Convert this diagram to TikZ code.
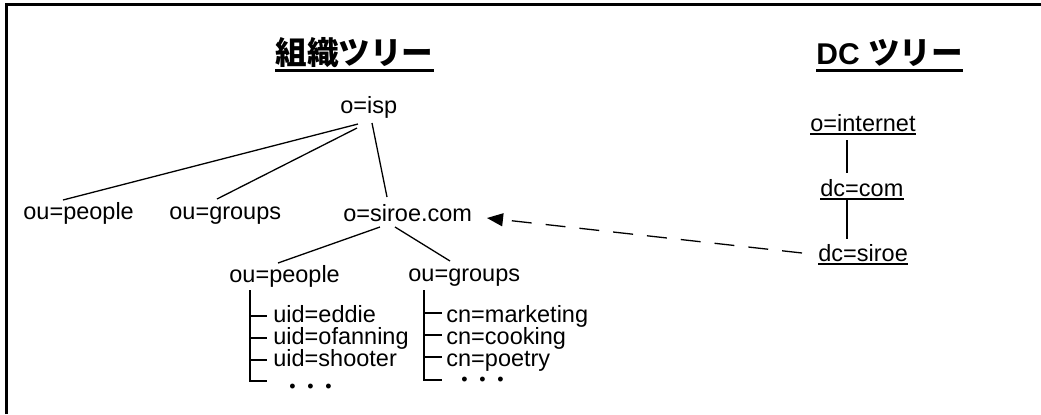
\documentclass[tikz,border=0pt]{standalone}
\usepackage{fontspec}
\setmainfont{Liberation Sans}
\newfontfamily\cjk{Noto Sans CJK JP}
\usetikzlibrary{arrows.meta,calc}
\begin{document}
\begin{tikzpicture}[x=0.5pt,y=-0.5pt,
  lbl/.style={inner sep=0pt,anchor=base west,font=\fontsize{11.75}{14}\selectfont},
  dotsnode/.style={inner sep=0pt,anchor=base west,font=\fontsize{9}{10}\selectfont},
  titlenode/.style={inner sep=0pt,anchor=base west},
  edge/.style={line width=0.65pt},
  brk/.style={line width=1pt},
  ul/.style={line width=1pt}]
\useasboundingbox (0,0) rectangle (1041,414);
\draw[line width=1.5pt] (6.5,414) -- (6.5,4) -- (1041,4);

% titles
\node[titlenode,font=\cjk\bfseries\fontsize{15.8}{18}\selectfont] (t1) at (275,64) {組織ツリー};
\draw[line width=1.5pt] ($(t1.base west)+(0,6)$) -- ($(t1.base east)+(0,6)$);
\node[titlenode,font=\bfseries\fontsize{15}{17}\selectfont] (t2) at (816,64) {DC {\cjk\bfseries\fontsize{15.8}{18}\selectfont ツリー}};
\draw[line width=1.5pt] ($(t2.base west)+(0,6)$) -- ($(t2.base east)+(0,6)$);

% organization tree
\node[lbl] (isp) at (340,113) {o=isp};
\node[lbl] (op) at (23,219) {ou=people};
\node[lbl] (og) at (169,219) {ou=groups};
\node[lbl] (siroe) at (343,221) {o=siroe.com};
\node[lbl] (ip) at (229,282) {ou=people};
\node[lbl] (ig) at (408,281) {ou=groups};
\node[lbl] (u1) at (273,322) {uid=eddie};
\node[lbl] (u2) at (273,344) {uid=ofanning};
\node[lbl] (u3) at (273,366) {uid=shooter};
\node[dotsnode] (ld) at (289,392) {•\hspace{5.85pt}•\hspace{5.85pt}•};
\node[lbl] (c1) at (446,322) {cn=marketing};
\node[lbl] (c2) at (446,344) {cn=cooking};
\node[lbl] (c3) at (446,366) {cn=poetry};
\node[dotsnode] (rd) at (461,385) {•\hspace{5.85pt}•\hspace{5.85pt}•};

\draw[edge] ($(isp.base west)+(18,11)$) -- ($(op.base west)+(40,-19)$);
\draw[edge] ($(isp.base west)+(17,15)$) -- ($(og.base west)+(48,-20)$);
\draw[edge] ($(isp.base west)+(32,10)$) -- ($(siroe.base west)+(44,-24)$);
\draw[edge] ($(siroe.base west)+(37,6)$) -- ($(ip.base west)+(49,-19)$);
\draw[edge] ($(siroe.base west)+(52,6)$) -- ($(ig.base west)+(42,-20)$);

% brackets
\draw[brk] ($(ip.base west)+(21,8)$) |- ($(ld.base west)+(-22,-11)$);
\foreach \n in {u1,u2,u3}
  \draw[brk] ($(\n.base west)+(-23,-6)$) -- ++(17,0);
\draw[brk] ($(ig.base west)+(16,9)$) |- ($(rd.base west)+(-19,-5)$);
\foreach \n in {c1,c2,c3}
  \draw[brk] ($(\n.base west)+(-22,-9)$) -- ++(18,0);

% DC tree
\node[lbl] (inet) at (810,131) {o=internet};
\node[lbl] (com) at (820,196) {dc=com};
\node[lbl] (dsiroe) at (818,261) {dc=siroe};
\foreach \n in {inet,com,dsiroe}
  \draw[ul] ($(\n.base west)+(0,2.5)$) -- ($(\n.base east)+(0,2.5)$);
\draw[brk] ($(inet.base west)+(37,9)$) -- ($(com.base west)+(27,-23)$);
\draw[brk] ($(com.base west)+(27,4)$) -- ($(dsiroe.base west)+(29,-22)$);

% mapping arrow
\draw[edge,dash pattern=on 10pt off 7pt,-{Triangle[length=8pt,width=6.5pt]}]
  ($(dsiroe.base west)+(-16,-8)$) -- ($(siroe.base west)+(144,-3)$);
\end{tikzpicture}
\end{document}
